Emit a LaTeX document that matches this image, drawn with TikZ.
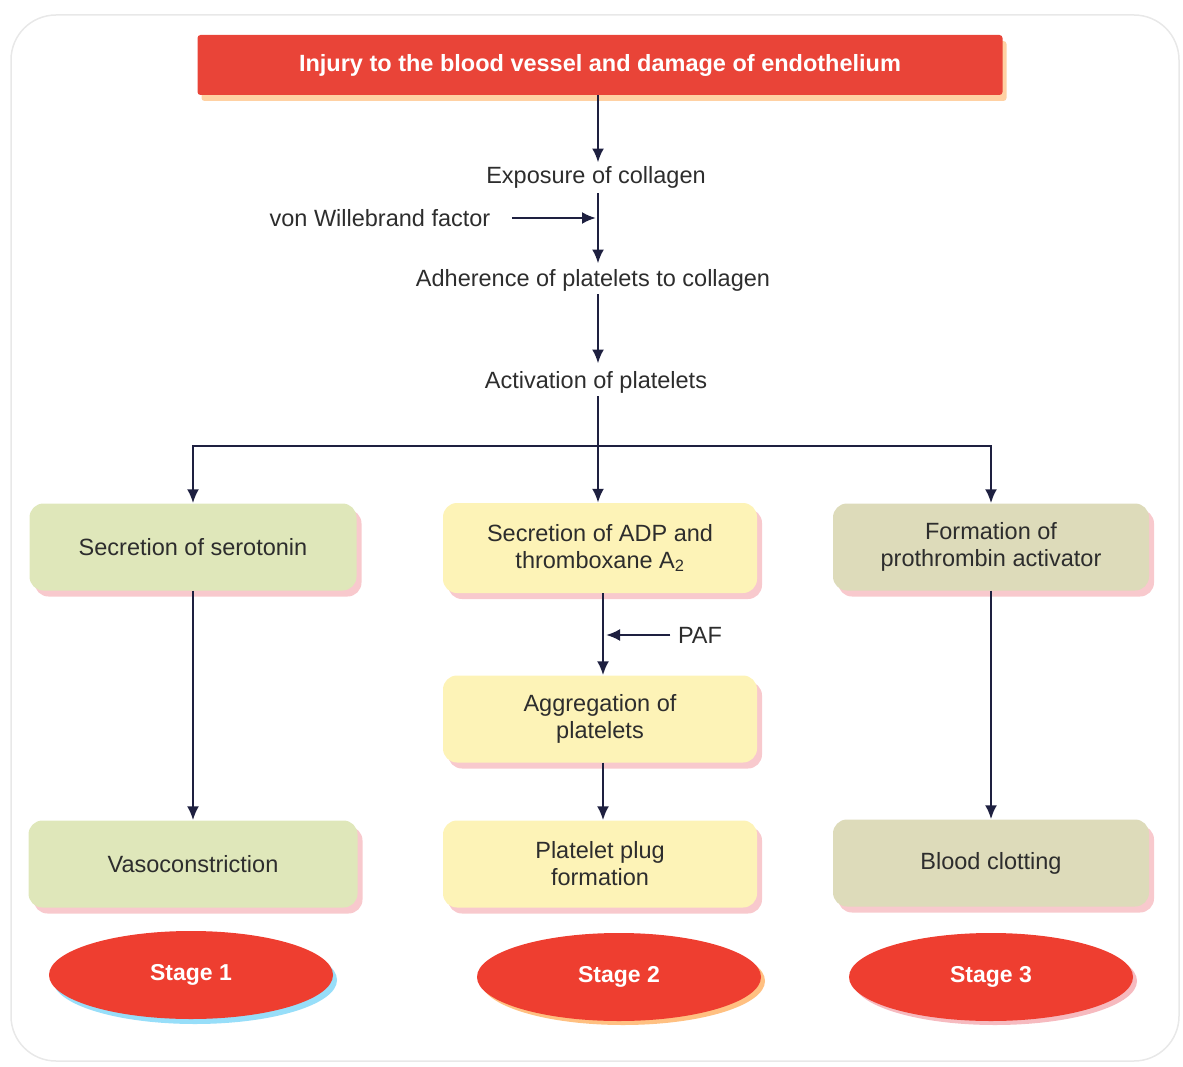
\documentclass[tikz,border=0pt]{standalone}
\usepackage{fontspec}
\setmainfont{Liberation Sans}
\usepackage{tikz}
\usetikzlibrary{shapes.geometric, arrows.meta, positioning, calc, shadows}
\definecolor{injred}{RGB}{233, 68, 56}
\definecolor{stagered}{RGB}{238, 62, 48}
\definecolor{boxgreen}{RGB}{223, 231, 186}
\definecolor{boxyellow}{RGB}{253, 243, 183}
\definecolor{boxtan}{RGB}{221, 219, 186}
\definecolor{arrnavy}{RGB}{30, 32, 64}
\definecolor{txtgray}{RGB}{45, 45, 45}
\definecolor{shpink}{RGB}{245, 178, 184}

\begin{document}
\begin{tikzpicture}[x=1pt, y=-1pt, >={Latex[length=14pt, width=12pt]},
    flow/.style={->, color=arrnavy, line width=2.4pt},
    plain/.style={font=\fontsize{23.5}{27}\selectfont, text=txtgray, align=center},
    card/.style={rectangle, rounded corners=14pt, minimum height=87pt, align=center,
        font=\fontsize{23.5}{27}\selectfont, text=txtgray,
        drop shadow={shadow xshift=5pt, shadow yshift=-6pt, fill=shpink, opacity=0.7}},
    stage/.style={ellipse, fill=stagered, minimum width=284pt, minimum height=88pt,
        text=white, font=\fontsize{23}{27}\selectfont\bfseries}]
    \useasboundingbox (0,0) rectangle (1183,1067);

    % Frame
    \draw[color=gray!18, line width=1.5pt, rounded corners=45pt] (11,15) rectangle (1179,1061);

    % Top box
    \node[rectangle, fill=injred, minimum width=805pt, minimum height=60pt, rounded corners=3pt,
        text=white, font=\fontsize{23.5}{27}\selectfont\bfseries,
        drop shadow={shadow xshift=4pt, shadow yshift=-6pt, fill=orange!45, opacity=0.8}]
        (Inj) at (600,65) {Injury to the blood vessel and damage of endothelium};

    % Main chain
    \node[plain] (Exp) at (596,177) {Exposure of collagen};
    \node[plain] (Adh) at (593,280) {Adherence of platelets to collagen};
    \node[plain] (Act) at (596,382) {Activation of platelets};
    \node[plain] (vWF) at (380,218) {von Willebrand factor};
    \coordinate (vWFin) at (596,218);

    % Stage boxes
    \node[card, fill=boxgreen, minimum width=327pt] (Sero) at (193,547) {Secretion of serotonin};
    \node[card, fill=boxgreen, minimum width=329pt] (Vaso) at (193,864) {Vasoconstriction};
    \node[card, fill=boxyellow, minimum width=314pt, minimum height=90pt] (ADP) at (600,548)
        {Secretion of ADP and\\thromboxane A\textsubscript{2}};
    \node[card, fill=boxyellow, minimum width=314pt] (Aggr) at (600,719) {Aggregation of\\platelets};
    \node[card, fill=boxyellow, minimum width=314pt] (Plug) at (600,864) {Platelet plug\\formation};
    \node[card, fill=boxtan, minimum width=316pt] (Proth) at (991,547) {Formation of\\prothrombin activator};
    \node[card, fill=boxtan, minimum width=316pt] (Clot) at (991,863) {Blood clotting};
    \node[plain] (PAF) at (700,635) {PAF};
    \coordinate (PAFin) at (606,635);

    % Stage ellipses
    \node[stage, drop shadow={shadow xshift=4pt, shadow yshift=-5pt, fill=cyan!45, opacity=0.9}]
        (St1) at (191,975) {Stage 1};
    \node[stage, drop shadow={shadow xshift=4pt, shadow yshift=-4pt, fill=orange!55, opacity=0.9}]
        (St2) at (619,977) {Stage 2};
    \node[stage, drop shadow={shadow xshift=4pt, shadow yshift=-4pt, fill=shpink, opacity=0.9}]
        (St3) at (991,977) {Stage 3};

    % Arrows
    \draw[flow] (Inj.south -| 598,0) -- (Exp.north -| 598,0);
    \draw[flow] ($(Exp.south -| 598,0)+(0,2)$) -- ($(Adh.north -| 598,0)+(0,-2)$);
    \draw[flow, shorten <=18pt] (vWF.east |- vWFin) -- (vWFin);
    \draw[flow] (Adh.south -| 598,0) -- ($(Act.north -| 598,0)+(0,-4)$);
    \coordinate (Br) at (598,446);
    \draw[color=arrnavy, line width=2.4pt] (Act.south -| Br) -- (Br);
    \draw[flow] (Br) -- (ADP.north -| Br);
    \draw[flow] (Br) -| (Sero.north);
    \draw[flow] (Br) -| (Proth.north);
    \draw[flow] (Sero.south) -- (Vaso.north);
    \draw[flow] (ADP.south -| 603,0) -- (Aggr.north -| 603,0);
    \draw[flow, shorten <=4pt] (PAF.west |- PAFin) -- (PAFin);
    \draw[flow] (Aggr.south -| 603,0) -- (Plug.north -| 603,0);
    \draw[flow] (Proth.south) -- (Clot.north);
\end{tikzpicture}
\end{document}
